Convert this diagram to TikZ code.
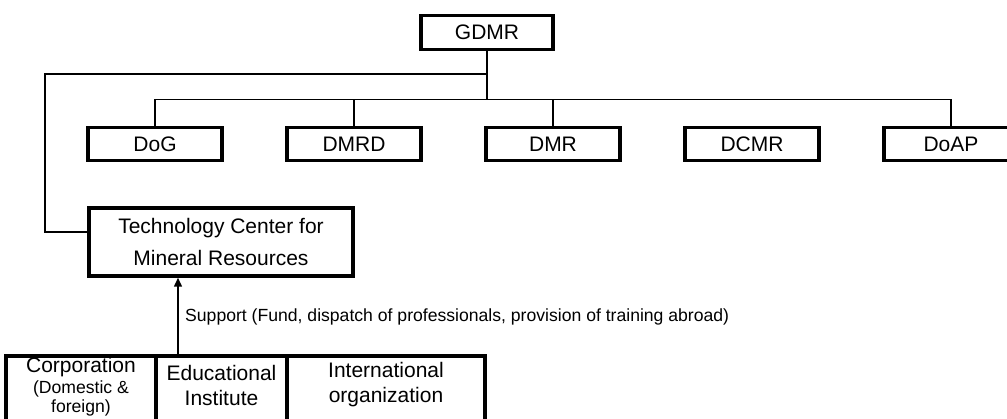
\documentclass[tikz,border=0pt]{standalone}
\usepackage{fontspec}
\setmainfont{Liberation Sans}
\usetikzlibrary{arrows.meta}

\tikzset{
  orgbox/.style={draw, line width=3.5pt, rectangle, inner sep=0pt,
    font=\fontsize{21}{25}\selectfont, align=center},
  unitbox/.style={orgbox, minimum width=134pt, minimum height=33pt},
  partner/.style={draw, line width=3.5pt, rectangle, inner sep=0pt},
  link/.style={line width=1.5pt},
  bigtext/.style={font=\fontsize{21}{25}\selectfont, align=center, inner sep=0pt},
  smalltext/.style={font=\fontsize{17.6}{21}\selectfont, inner sep=0pt}
}

\begin{document}
\begin{tikzpicture}[x=1pt, y=-1pt]
  \useasboundingbox (0,0) rectangle (1007,419);
  \clip (0,0) rectangle (1007,419);

  % head office
  \node[orgbox, minimum width=132pt, minimum height=34pt] (gdmr) at (487,32.5) {GDMR};

  % departments
  \node[unitbox] (dog)  at (155,144) {DoG};
  \node[unitbox] (dmrd) at (354,144) {DMRD};
  \node[unitbox] (dmr)  at (553,144) {DMR};
  \node[unitbox] (dcmr) at (752,144) {DCMR};
  \node[unitbox] (doap) at (951,144) {DoAP};

  % technology center
  \node[orgbox, minimum width=264pt, minimum height=68pt,
        font=\fontsize{21}{32}\selectfont] (tcmr) at (221,242)
        {Technology Center for\\Mineral Resources};

  % supporting partners
  \node[partner, minimum width=150pt, minimum height=90pt] (corp) at (81,401) {};
  \node[partner, minimum width=131pt, minimum height=90pt] (edu)  at (221.5,401) {};
  \node[partner, minimum width=198pt, minimum height=90pt] (intl) at (386,401) {};

  \node[bigtext] (corpA) at (81,367) {Corporation};
  \node[smalltext] (corpB) at (81,388.5) {(Domestic \&};
  \node[smalltext] (corpC) at (81,407.5) {foreign)};
  \node[bigtext, font=\fontsize{21}{25}\selectfont] (eduT) at (221.5,385) {Educational\\Institute};
  \node[bigtext, font=\fontsize{21}{25}\selectfont] (intlT) at (386,385) {International\\organization};

  % department bus
  \coordinate (busL) at (155,99.5);
  \coordinate (busR) at (951,99.5);
  \draw[link] (busL) -- (busR);
  \draw[link] (gdmr.south) -- (gdmr.south |- busL);
  \draw[link] (dog.north)  -- (dog.north |- busL);
  \draw[link] (dmrd.north) -- (dmrd.north |- busL);
  \draw[link] (dmr.north)  -- (dmr.north |- busL);
  \draw[link] (doap.north) -- (doap.north |- busL);

  % line down to the technology center
  \coordinate (tj) at (487,74);
  \coordinate (tl) at (45,74);
  \coordinate (tin) at (89,232);
  \draw[link] (tj) -- (tl) -- (tl |- tin) -- (tcmr.west |- tin);

  % support arrow
  \coordinate (sup) at (178,354);
  \draw[link, -{Triangle[length=9pt,width=8pt]}] (sup) -- (sup |- tcmr.south);
  \node[smalltext, anchor=west] (suptext) at (185,317)
    {Support (Fund, dispatch of professionals, provision of training abroad)};
\end{tikzpicture}
\end{document}
